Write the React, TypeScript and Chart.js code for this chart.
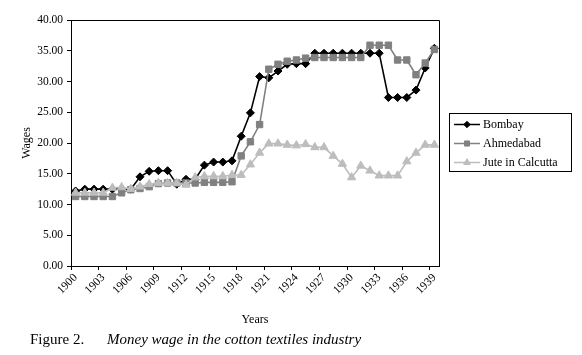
import React, { useEffect, useRef } from 'react';
import { Chart, registerables } from 'chart.js';

Chart.register(...registerables);

const years = [
  '1900', '1901', '1902', '1903', '1904', '1905', '1906', '1907', '1908', '1909',
  '1910', '1911', '1912', '1913', '1914', '1915', '1916', '1917', '1918', '1919',
  '1920', '1921', '1922', '1923', '1924', '1925', '1926', '1927', '1928', '1929',
  '1930', '1931', '1932', '1933', '1934', '1935', '1936', '1937', '1938', '1939',
];

const bombay = [
  12.2, 12.5, 12.5, 12.5, 12.5, 12.5, 12.5, 14.5, 15.4, 15.5,
  15.5, 13.3, 14.1, 14.1, 16.4, 16.9, 16.9, 17.1, 21.1, 24.9,
  30.8, 30.6, 31.7, 32.8, 32.9, 32.9, 34.6, 34.6, 34.6, 34.6,
  34.6, 34.6, 34.6, 34.6, 27.4, 27.4, 27.4, 28.6, 32.2, 35.4,
];

const ahmedabad = [
  11.3, 11.3, 11.3, 11.3, 11.3, 11.9, 12.4, 12.6, 12.9, 13.4,
  13.5, 13.5, 13.5, 13.5, 13.6, 13.6, 13.6, 13.7, 17.9, 20.2,
  23.0, 32.0, 32.8, 33.3, 33.5, 33.8, 33.9, 33.9, 33.9, 33.9,
  33.9, 33.9, 35.9, 35.9, 35.9, 33.5, 33.5, 31.1, 33.0, 35.2,
];

const jute = [
  11.9, 11.9, 11.9, 11.9, 12.7, 12.8, 12.5, 12.9, 13.3, 13.5,
  13.5, 13.5, 13.2, 14.4, 14.6, 14.6, 14.6, 14.8, 14.8, 16.5,
  18.4, 19.9, 19.9, 19.7, 19.6, 19.8, 19.3, 19.3, 17.9, 16.6,
  14.4, 16.3, 15.5, 14.7, 14.7, 14.7, 17.0, 18.4, 19.7, 19.7,
];

const seriesNames = ['Bombay', 'Ahmedabad', 'Jute in Calcutta'];
const seriesColors = ['#000000', '#808080', '#bdbdbd'];
const seriesMarkers = ['rectRot', 'rect', 'triangle'];
const seriesRadius = [4, 4.5, 4.8];

const xTickEvery = 3;
const yMin = 0;
const yMax = 40;
const yStep = 5;

const FAMILY = '"Liberation Serif", "Times New Roman", serif';

function drawMarker(ctx: CanvasRenderingContext2D, style: string, x: number, y: number, r: number, color: string) {
  ctx.save();
  ctx.fillStyle = color;
  ctx.strokeStyle = color;
  ctx.lineWidth = 1;
  ctx.beginPath();
  if (style === 'rectRot') {
    ctx.moveTo(x, y - r);
    ctx.lineTo(x + r, y);
    ctx.lineTo(x, y + r);
    ctx.lineTo(x - r, y);
    ctx.closePath();
  } else if (style === 'rect') {
    const s = r * Math.SQRT1_2;
    ctx.rect(x - s, y - s, 2 * s, 2 * s);
  } else {
    let a = 0;
    ctx.moveTo(x + Math.sin(a) * r, y - Math.cos(a) * r);
    a += (2 * Math.PI) / 3;
    ctx.lineTo(x + Math.sin(a) * r, y - Math.cos(a) * r);
    a += (2 * Math.PI) / 3;
    ctx.lineTo(x + Math.sin(a) * r, y - Math.cos(a) * r);
    ctx.closePath();
  }
  ctx.fill();
  ctx.stroke();
  ctx.restore();
}

const framePlugin = {
  id: 'frame',
  afterDraw(chart: any) {
    const { ctx, chartArea } = chart;
    const l = Math.round(chartArea.left) + 0.5;
    const r = Math.round(chartArea.right) + 0.5;
    const t = Math.round(chartArea.top) + 0.5;
    const b = Math.round(chartArea.bottom) + 0.5;
    ctx.save();
    ctx.strokeStyle = '#000';
    ctx.lineWidth = 1;
    ctx.beginPath();
    ctx.moveTo(l, t);
    ctx.lineTo(r, t);
    ctx.lineTo(r, b);
    ctx.stroke();
    ctx.restore();
  },
};

const legendPlugin = {
  id: 'boxLegend',
  afterDraw(chart: any) {
    const { ctx } = chart;
    const bx = 449.5, by = 113.5, bw = 122, bh = 58;
    ctx.save();
    ctx.fillStyle = '#fff';
    ctx.fillRect(bx, by, bw, bh);
    ctx.strokeStyle = '#000';
    ctx.lineWidth = 1;
    ctx.strokeRect(bx, by, bw, bh);
    ctx.font = `12px ${FAMILY}`;
    ctx.textBaseline = 'middle';
    ctx.textAlign = 'left';
    chart.data.datasets.forEach((ds: any, i: number) => {
      const y = by + 11 + i * 19;
      ctx.strokeStyle = ds.borderColor;
      ctx.lineWidth = 1.5;
      ctx.beginPath();
      ctx.moveTo(454, y);
      ctx.lineTo(480, y);
      ctx.stroke();
      drawMarker(ctx, ds.pointStyle, 467, y, ds.pointRadius * 0.8, ds.borderColor);
      ctx.fillStyle = '#000';
      ctx.fillText(ds.label, 483, y + 0.5);
    });
    ctx.restore();
  },
};

export default function App() {
  const ref = useRef<HTMLCanvasElement>(null);

  useEffect(() => {
    if (!ref.current) return;
    const seriesData = [bombay, ahmedabad, jute];
    const chart = new Chart(ref.current, {
      type: 'line',
      data: {
        labels: years,
        datasets: seriesData.map((d, i) => ({
          label: seriesNames[i],
          data: d,
          borderColor: seriesColors[i],
          backgroundColor: seriesColors[i],
          pointBackgroundColor: seriesColors[i],
          pointBorderColor: seriesColors[i],
          pointStyle: seriesMarkers[i],
          pointRadius: seriesRadius[i],
          pointBorderWidth: 1,
          borderWidth: 1.6,
          tension: 0,
          fill: false,
          order: 3 - i,
        })),
      },
      options: {
        responsive: false,
        animation: false,
        devicePixelRatio: 1,
        layout: { padding: { left: 0, right: 143, top: 20, bottom: 28 } },
        plugins: {
          legend: { display: false },
          tooltip: { enabled: false },
        },
        scales: {
          x: {
            type: 'category',
            offset: true,
            grid: {
              display: true,
              drawOnChartArea: false,
              drawTicks: true,
              tickLength: 4,
              offset: true,
              lineWidth: 1,
              color: (c: any) => (typeof c.index === 'number' && c.index % xTickEvery === 0 ? '#000' : 'rgba(0,0,0,0)'),
            },
            border: { display: true, color: '#000', width: 1 },
            ticks: {
              autoSkip: false,
              maxRotation: 45,
              minRotation: 45,
              padding: 1,
              color: '#000',
              font: { family: FAMILY, size: 11.5 },
              callback: (_v: any, i: number) => (i % xTickEvery === 0 ? years[i] : ''),
            },
            title: {
              display: true,
              text: 'Years',
              color: '#000',
              font: { family: FAMILY, size: 12 },
              padding: 0,
            },
            afterFit: (s: any) => {
              s.height = 61;
            },
          },
          y: {
            min: yMin,
            max: yMax,
            grid: {
              display: true,
              drawOnChartArea: false,
              drawTicks: true,
              tickLength: 4,
              color: '#000',
            },
            border: { display: true, color: '#000', width: 1 },
            ticks: {
              stepSize: yStep,
              padding: 4,
              color: '#000',
              font: { family: FAMILY, size: 11.5 },
              callback: (v: any) => Number(v).toFixed(2),
            },
            title: {
              display: true,
              text: 'Wages',
              color: '#000',
              font: { family: FAMILY, size: 12 },
              padding: { top: 20, bottom: 0 },
            },
            afterFit: (s: any) => {
              s.width = 71;
            },
          },
        },
      },
      plugins: [framePlugin, legendPlugin],
    } as any);
    return () => chart.destroy();
  }, []);

  return (
    <div style={{ position: 'absolute', left: 0, top: 0, width: 582, height: 355, background: '#fff', overflow: 'hidden' }}>
      <canvas ref={ref} width={582} height={355} style={{ display: 'block', width: 582, height: 355 }} />
      <div
        style={{
          position: 'absolute',
          left: 30,
          top: 331,
          whiteSpace: 'nowrap',
          fontFamily: FAMILY,
          fontSize: 15,
          lineHeight: '17px',
          color: '#000',
        }}
      >
        <span>Figure 2.</span>
        <span style={{ position: 'absolute', left: 77, top: 0, fontStyle: 'italic' }}>
          Money wage in the cotton textiles industry
        </span>
      </div>
    </div>
  );
}
